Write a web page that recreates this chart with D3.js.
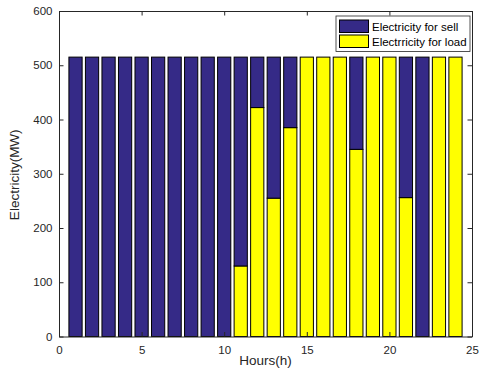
<!DOCTYPE html>
<html>
<head>
<meta charset="utf-8">
<script src="https://cdn.jsdelivr.net/npm/d3@7"></script>
<style>
  body { margin: 0; background: #fff; }
  svg { font-family: "Liberation Sans", Arial, sans-serif; }
</style>
</head>
<body>
<div id="chart"></div>
<script>
// hours 1..24, electricity split between load and sell (stacked, load at bottom)
const hours = d3.range(1, 25);
const loadValues = [0, 0, 0, 0, 0, 0, 0, 0, 0, 0, 130, 422, 255, 385, 515, 515, 515, 345, 515, 515, 256, 0, 515, 515];
const sellValues = [515, 515, 515, 515, 515, 515, 515, 515, 515, 515, 385, 93, 260, 130, 0, 0, 0, 170, 0, 0, 259, 515, 0, 0];
const seriesNames = ["Electricity for sell", "Electrricity for load"];
const xTicks = [0, 5, 10, 15, 20, 25];
const yTicks = [0, 100, 200, 300, 400, 500, 600];

const W = 483, H = 380;
const margin = { top: 11, right: 11, bottom: 43.5, left: 59 },
    width = W - margin.left - margin.right,
    height = H - margin.top - margin.bottom;

const navy = "#352a87", yellow = "#ffff00", axisColor = "#262626";

const svg = d3.select("#chart")
    .append("svg")
    .attr("width", W)
    .attr("height", H);

const g = svg.append("g")
    .attr("transform", `translate(${margin.left},${margin.top})`);

const x = d3.scaleLinear().domain([0, 25]).range([0, width]);
const y = d3.scaleLinear().domain([0, 600]).range([height, 0]);

const barW = x(0.8) - x(0);

// stacked bars
const rows = hours.map((h, i) => ({ hour: h, load: loadValues[i], sell: sellValues[i] }));
const stack = d3.stack().keys(["load", "sell"])(rows);
const colors = { load: yellow, sell: navy };

stack.forEach(layer => {
    g.append("g")
        .selectAll("rect")
        .data(layer.filter(d => d[1] - d[0] > 0))
        .join("rect")
        .attr("x", d => x(d.data.hour) - barW / 2)
        .attr("y", d => y(d[1]))
        .attr("width", barW)
        .attr("height", d => y(d[0]) - y(d[1]))
        .attr("fill", colors[layer.key])
        .attr("stroke", "#000")
        .attr("stroke-width", 1);
});

// axes box with inward ticks on all sides
const tickLen = 4.5;
const xAxis = d3.axisBottom(x).tickValues(xTicks).tickSizeInner(-tickLen).tickSizeOuter(0).tickPadding(9.5);
const yAxis = d3.axisLeft(y).tickValues(yTicks).tickSizeInner(-tickLen).tickSizeOuter(0).tickPadding(6.5);
const xTop = d3.axisTop(x).tickValues(xTicks).tickSizeInner(-tickLen).tickSizeOuter(0).tickFormat("");
const yRight = d3.axisRight(y).tickValues(yTicks).tickSizeInner(-tickLen).tickSizeOuter(0).tickFormat("");

function styleAxis(sel) {
    sel.selectAll("path").attr("stroke", axisColor);
    sel.selectAll("line").attr("stroke", axisColor);
    sel.selectAll("text")
        .attr("fill", axisColor)
        .style("font-size", "11.5px")
        .style("font-family", "'Liberation Sans', Arial, sans-serif");
}

g.append("g").attr("transform", `translate(0,${height})`).call(xAxis).call(styleAxis);
g.append("g").call(yAxis).call(styleAxis);
g.append("g").call(xTop).call(styleAxis);
g.append("g").attr("transform", `translate(${width},0)`).call(yRight).call(styleAxis);

// axis labels
svg.append("text")
    .attr("x", margin.left + width / 2)
    .attr("y", 365)
    .attr("text-anchor", "middle")
    .attr("fill", axisColor)
    .style("font-size", "13.5px")
    .text("Hours(h)");

svg.append("text")
    .attr("transform", `translate(19,${margin.top + height / 2 + 1}) rotate(-90)`)
    .attr("text-anchor", "middle")
    .attr("fill", axisColor)
    .style("font-size", "13.5px")
    .text("Electricity(MW)");

// legend
const legend = svg.append("g").attr("transform", "translate(336,16)");
legend.append("rect")
    .attr("width", 134).attr("height", 35.5)
    .attr("fill", "#fff").attr("stroke", axisColor).attr("stroke-width", 0.8);
[navy, yellow].forEach((c, i) => {
    legend.append("rect")
        .attr("x", 3.5).attr("y", 4 + i * 15)
        .attr("width", 29).attr("height", 12.5)
        .attr("fill", c).attr("stroke", "#000").attr("stroke-width", 1);
    legend.append("text")
        .attr("x", 36).attr("y", 10.5 + i * 15)
        .attr("dy", "0.35em")
        .attr("fill", "#000")
        .style("font-size", "11.5px")
        .text(seriesNames[i]);
});
</script>
</body>
</html>
